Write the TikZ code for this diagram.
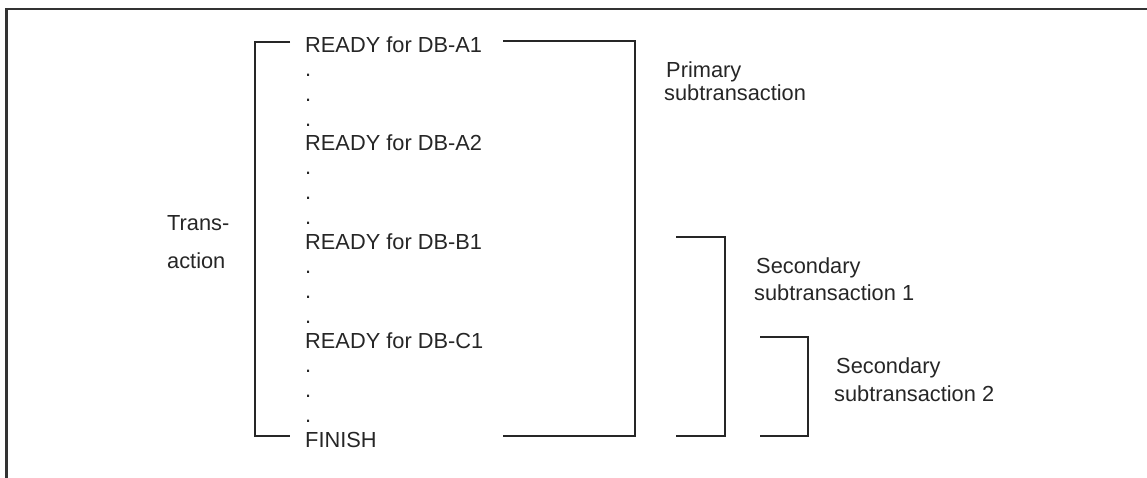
\documentclass[tikz,border=0pt]{standalone}
\usepackage{fontspec}
\setmainfont{Liberation Sans}
\begin{document}
\begin{tikzpicture}[x=1pt,y=-1pt,
  lbl/.style={anchor=base west,inner sep=0pt,font=\fontsize{21.8}{25}\selectfont,text=black!85},
  brk/.style={draw=black!85,line width=1.8pt},
  frm/.style={draw=black!80,line width=2.5pt}]
\useasboundingbox (0,0) rectangle (1147,477);
\begin{scope}
\clip (0,0) rectangle (1147,477);
\draw[frm] (6.5,9) rectangle (1200,520);
\end{scope}
% left column
\node[lbl] (a1) at (305,52) {READY for DB-A1};
\node[lbl] (d1) at (305,76) {.};
\node[lbl] (d2) at (305,101) {.};
\node[lbl] (d3) at (305,126) {.};
\node[lbl] (a2) at (305,150) {READY for DB-A2};
\node[lbl] (d4) at (305,174) {.};
\node[lbl] (d5) at (305,199) {.};
\node[lbl] (d6) at (305,224) {.};
\node[lbl] (b1) at (305,249) {READY for DB-B1};
\node[lbl] (d7) at (305,273) {.};
\node[lbl] (d8) at (305,298) {.};
\node[lbl] (d9) at (305,323) {.};
\node[lbl] (c1) at (305,348) {READY for DB-C1};
\node[lbl] (d10) at (305,372) {.};
\node[lbl] (d11) at (305,397) {.};
\node[lbl] (d12) at (305,422) {.};
\node[lbl] (fin) at (305,447) {FINISH};
% labels
\node[lbl] (tr1) at (167,230) {Trans-};
\node[lbl] (tr2) at (167,268) {action};
\node[lbl] (p1) at (666,77) {Primary};
\node[lbl] (p2) at (664,100) {subtransaction};
\node[lbl] (s1a) at (756,273) {Secondary};
\node[lbl] (s1b) at (754,300) {subtransaction 1};
\node[lbl] (s2a) at (836,373) {Secondary};
\node[lbl] (s2b) at (834,401) {subtransaction 2};
% bracket coordinates
\coordinate (lt) at (290,42);
\coordinate (lb) at (290,436);
\coordinate (ptl) at (503,41);
\coordinate (pbl) at (503,436);
\coordinate (s1t) at (676,237);
\coordinate (s1b0) at (676,436);
\coordinate (s2t) at (760,337);
\coordinate (s2b0) at (760,436);
% brackets
\draw[brk] (lt) -- (255,42) -- (255,436) -- (lb);
\draw[brk] (ptl) -- (635,41) -- (635,436) -- (pbl);
\draw[brk] (s1t) -- (725,237) -- (725,436) -- (s1b0);
\draw[brk] (s2t) -- (808,337) -- (808,436) -- (s2b0);
\end{tikzpicture}
\end{document}
